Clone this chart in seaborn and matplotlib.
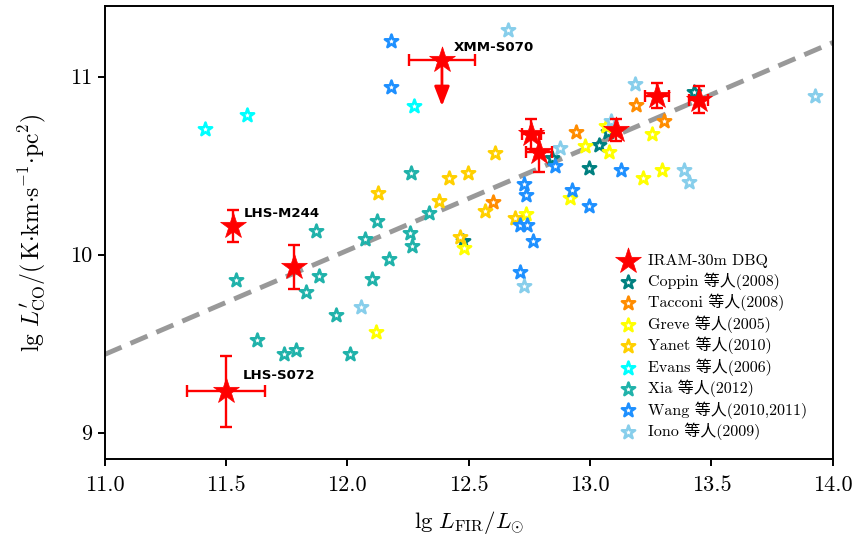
import numpy as np
import pandas as pd
import matplotlib
matplotlib.use('Agg')
import matplotlib.pyplot as plt
import seaborn as sns

# IRAM-30m DBQ sample (lg L_FIR, lg L'CO) with errors
ir_x = [11.50, 11.53, 11.78, 12.39, 12.758, 12.79, 13.108, 13.276, 13.448]
ir_y = [9.231, 10.163, 9.930, 11.094, 10.677, 10.574, 10.701, 10.892, 10.870]
ir_xerr = [0.16, 0.0, 0.0, 0.135, 0.04, 0.055, 0.0, 0.05, 0.04]
ir_yerr = [0.20, 0.09, 0.125, 0.0, 0.085, 0.11, 0.063, 0.07, 0.075]
ir_names = ['LHS-S072', 'LHS-M244', '', 'XMM-S070', '', '', '', '', '']
uplim_idx = 3
uplim_len = 0.26

# literature samples
coppin_x = [12.477, 12.843, 13.035, 12.995, 13.076, 13.427]
coppin_y = [10.079, 10.544, 10.617, 10.488, 10.690, 10.914]

tacconi_x = [12.600, 12.943, 13.189, 13.304]
tacconi_y = [10.297, 10.690, 10.839, 10.752]

greve_x = [12.120, 12.737, 12.479, 12.919, 12.981, 13.067, 13.077, 13.257, 13.220, 13.297]
greve_y = [9.564, 10.228, 10.038, 10.316, 10.609, 10.721, 10.576, 10.677, 10.429, 10.473]

yanet_x = [12.127, 12.607, 12.418, 12.497, 12.378, 12.569, 12.693, 12.466]
yanet_y = [10.346, 10.571, 10.432, 10.458, 10.303, 10.243, 10.208, 10.101]

evans_x = [11.412, 11.588, 12.276]
evans_y = [10.704, 10.786, 10.836]

xia_x = [12.264, 12.123, 11.873, 12.072, 12.257, 12.268, 12.337, 12.172, 11.541,
         11.884, 11.829, 12.101, 11.953, 11.630, 11.739, 11.789, 12.010]
xia_y = [10.458, 10.187, 10.135, 10.088, 10.120, 10.047, 10.232, 9.976, 9.860,
         9.877, 9.788, 9.865, 9.658, 9.521, 9.443, 9.465, 9.439]

wang_x = [12.182, 12.182, 12.726, 12.737, 12.713, 12.740, 12.765, 12.713, 12.854,
          12.927, 12.995, 13.128]
wang_y = [11.198, 10.943, 10.397, 10.337, 10.168, 10.168, 10.076, 9.901, 10.499,
          10.363, 10.275, 10.474]

iono_x = [12.662, 13.187, 12.877, 13.386, 13.406, 13.927, 13.088, 12.726, 12.056]
iono_y = [11.261, 10.958, 10.599, 10.474, 10.410, 10.892, 10.749, 9.822, 9.704]

# linear fit  lg L'CO = a * lg L_FIR + b
fit_a = 0.584
fit_b = 3.015

groups = [
    ('Coppin 等人(2008)', coppin_x, coppin_y, '#008080'),
    ('Tacconi 等人(2008)', tacconi_x, tacconi_y, '#FF8C00'),
    ('Greve 等人(2005)', greve_x, greve_y, '#FFFF00'),
    ('Yanet 等人(2010)', yanet_x, yanet_y, '#FFD000'),
    ('Evans 等人(2006)', evans_x, evans_y, '#00FFFF'),
    ('Xia 等人(2012)', xia_x, xia_y, '#20B2AA'),
    ('Wang 等人(2010,2011)', wang_x, wang_y, '#1E90FF'),
    ('Iono 等人(2009)', iono_x, iono_y, '#87CEEB'),
]

sns.set_style('ticks')
plt.rcParams['font.family'] = ['cmr10', 'Noto Sans CJK SC']
plt.rcParams['mathtext.fontset'] = 'cm'
plt.rcParams['axes.formatter.use_mathtext'] = True
for k in ['text.color', 'axes.labelcolor', 'xtick.color', 'ytick.color', 'axes.edgecolor']:
    plt.rcParams[k] = 'black'

fig = plt.figure(figsize=(8.57, 5.36), dpi=100)
ax = fig.add_axes([0.122, 0.1437, 0.8497, 0.8457])

# fit line
fit_x = np.array([11.0, 14.0])
sns.lineplot(x=fit_x, y=fit_a * fit_x + fit_b, ax=ax, color='#999999', lw=3.5,
             dashes=False, zorder=1)
ax.lines[-1].set_dashes((3.8, 2.0))

for label, gx, gy, col in groups:
    sns.scatterplot(x=gx, y=gy, ax=ax, marker='*', s=100, facecolor='white',
                    edgecolor=col, linewidth=1.9, label=label, zorder=3)

# IRAM sample with error bars
ax.errorbar(ir_x, ir_y, xerr=ir_xerr, yerr=ir_yerr, fmt='none', ecolor='red',
            elinewidth=1.7, capsize=4, capthick=1.7, zorder=4)
ax.annotate('', xy=(ir_x[uplim_idx], ir_y[uplim_idx] - uplim_len),
            xytext=(ir_x[uplim_idx], ir_y[uplim_idx]),
            arrowprops=dict(arrowstyle='-|>,head_width=0.35,head_length=0.9',
                            color='red', lw=2, shrinkA=0, shrinkB=0,
                            mutation_scale=13), zorder=4)
sns.scatterplot(x=ir_x, y=ir_y, ax=ax, marker='*', s=380, color='red',
                edgecolor='red', linewidth=0.5, label='IRAM-30m DBQ', zorder=5)

offsets = {'LHS-S072': (17, 16), 'LHS-M244': (11, 12), 'XMM-S070': (12, 12)}
for xx, yy, name in zip(ir_x, ir_y, ir_names):
    if name:
        ax.annotate(name, (xx, yy), xytext=offsets[name], textcoords='offset pixels',
                    ha='left', va='center', fontsize=9.6, fontweight='bold',
                    family='DejaVu Sans', color='black')

ax.set_xlim(11.0, 14.0)
ax.set_ylim(8.852, 11.398)
ax.set_xticks(np.arange(11.0, 14.01, 0.5))
ax.set_xticklabels(['%.1f' % t for t in np.arange(11.0, 14.01, 0.5)])
ax.set_yticks([9, 10, 11])
ax.set_yticklabels(['9', '10', '11'])
ax.tick_params(labelsize=16, length=5, width=1.4, color='black')
ax.tick_params(axis='x', pad=7)
for sp in ax.spines.values():
    sp.set_linewidth(1.4)
    sp.set_color('black')

ax.set_xlabel(r'$\mathrm{lg}\ L_{\mathrm{FIR}}/L_{\odot}$', fontsize=16.5, labelpad=10)
ax.set_ylabel(r'$\mathrm{lg}\ L^{\prime}_{\mathrm{CO}}/(\,\mathrm{K{\cdot}km{\cdot}s^{-1}{\cdot}pc^{2}})$',
              fontsize=17, labelpad=16)

handles, labels = ax.get_legend_handles_labels()
order = [labels.index('IRAM-30m DBQ')] + [labels.index(g[0]) for g in groups]
ax.legend([handles[i] for i in order], [labels[i] for i in order], loc='lower right',
          frameon=False, fontsize=11.5, labelspacing=0.25, handletextpad=0.3,
          bbox_to_anchor=(0.985, 0.01))

fig.savefig('out.png', dpi=100)
